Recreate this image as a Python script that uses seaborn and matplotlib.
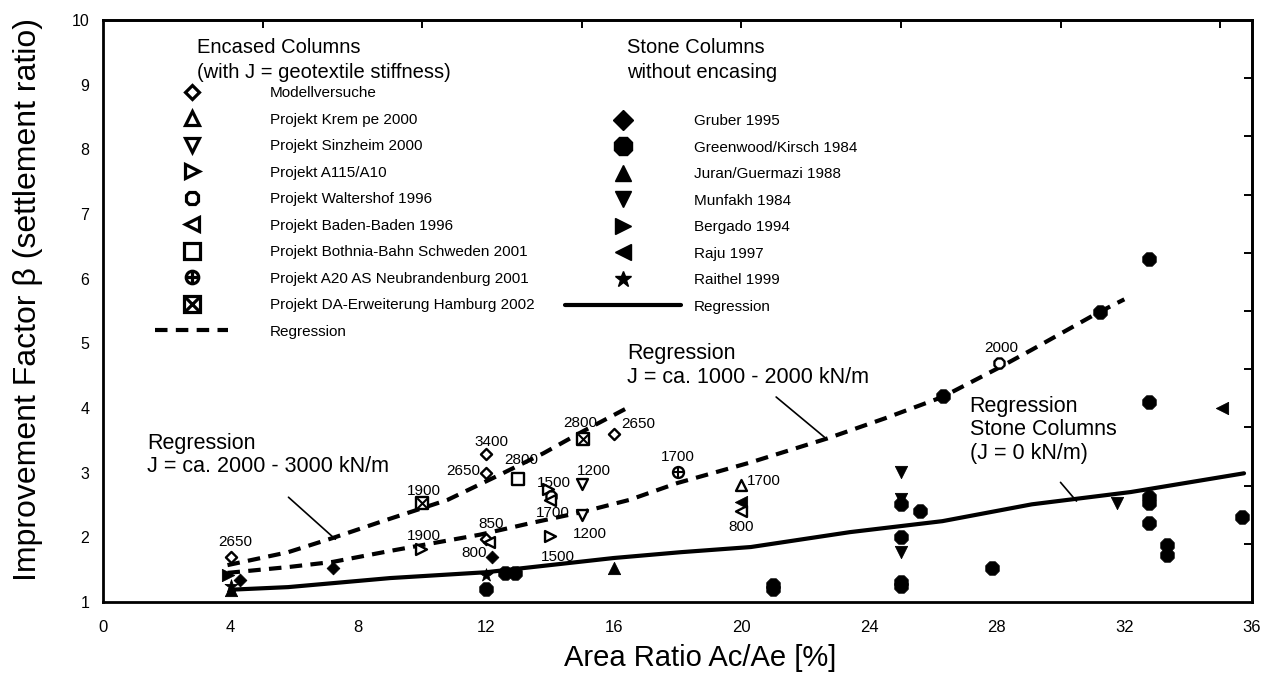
import pandas as pd
import seaborn as sns
import matplotlib.pyplot as plt
from matplotlib.lines import Line2D
from matplotlib.ticker import MultipleLocator

# ---------------- data ----------------
# encased columns (open symbols)
modell_x = [4.0, 12.0, 12.0, 12.0, 16.0]
modell_y = [1.70, 3.29, 3.00, 1.98, 3.60]
krempe_x = [20.0]
krempe_y = [2.81]
sinzheim_x = [15.0, 15.0]
sinzheim_y = [2.82, 2.34]
a115_x = [9.95, 13.95, 14.0]
a115_y = [1.82, 2.74, 2.02]
waltershof_x = [14.05, 28.06]
waltershof_y = [2.64, 4.69]
baden_x = [12.1, 14.0, 20.0]
baden_y = [1.93, 2.57, 2.41]
bothnia_x = [13.0]
bothnia_y = [2.90]
a20_x = [18.0]
a20_y = [3.01]
da_x = [10.0, 15.03]
da_y = [2.53, 3.52]

# stone columns without encasing (filled symbols)
gruber_x = [4.3, 7.22, 12.2]
gruber_y = [1.34, 1.53, 1.70]
greenwood_x = [12.0, 12.6, 12.9, 21.0, 21.0, 25.0, 25.6, 25.0, 25.0, 25.0,
               26.33, 27.84, 31.24, 32.77, 32.77, 32.77, 32.77, 32.77, 33.33, 33.33, 35.69]
greenwood_y = [1.20, 1.45, 1.45, 1.20, 1.27, 2.52, 2.41, 2.00, 1.31, 1.25,
               4.18, 1.53, 5.48, 6.30, 4.09, 2.62, 2.53, 2.22, 1.88, 1.72, 2.31]
juran_x = [4.0, 16.0]
juran_y = [1.19, 1.52]
munfakh_x = [25.0, 25.0, 25.0, 31.76]
munfakh_y = [3.01, 2.60, 1.77, 2.53]
bergado_x = [3.93]
bergado_y = [1.42]
raju_x = [20.0, 35.06]
raju_y = [2.55, 4.00]
raithel_x = [4.0, 12.0]
raithel_y = [1.25, 1.42]

# regression curves
reg_hi_x = [3.9, 5.8, 7.2, 8.7, 10.8, 12.4, 13.8, 15.0, 16.5]
reg_hi_y = [1.57, 1.77, 1.99, 2.24, 2.58, 2.96, 3.30, 3.63, 4.02]
reg_mid_x = [3.9, 5.8, 7.2, 9.0, 11.8, 13.4, 15.0, 16.5, 18.0, 20.3, 22.7, 24.5,
             26.3, 28.1, 29.1, 31.2, 32.0]
reg_mid_y = [1.45, 1.54, 1.62, 1.79, 2.04, 2.22, 2.39, 2.58, 2.84, 3.16, 3.53, 3.84,
             4.17, 4.63, 4.90, 5.48, 5.68]
reg_stone_x = [4.0, 5.8, 9.0, 12.0, 16.0, 18.1, 20.3, 23.4, 26.3, 29.1, 32.2, 35.75]
reg_stone_y = [1.19, 1.23, 1.37, 1.46, 1.68, 1.77, 1.85, 2.08, 2.25, 2.51, 2.70, 2.99]

# geotextile stiffness labels next to the points
j_text = ['2650', '1900', '1900', '3400', '2650', '2800', '1500', '1200', '2800', '2650',
          '1700', '1200', '850', '800', '1500', '1700', '1700', '800', '2000']
j_text_x = [4.14, 10.04, 10.04, 12.18, 11.3, 13.09, 14.12, 15.38, 14.94, 16.76,
            14.09, 15.25, 12.15, 11.64, 14.25, 18.0, 20.7, 20.0, 28.13]
j_text_y = [1.93, 2.72, 2.02, 3.47, 3.02, 3.19, 2.84, 3.02, 3.77, 3.75,
            2.38, 2.05, 2.21, 1.76, 1.70, 3.24, 2.87, 2.16, 4.93]

# ---------------- styling ----------------
sns.set_style('white')
plt.rcParams['font.family'] = ['Liberation Sans', 'DejaVu Sans']
plt.rcParams['text.color'] = 'black'
plt.rcParams['axes.labelcolor'] = 'black'
plt.rcParams['xtick.color'] = 'black'
plt.rcParams['ytick.color'] = 'black'
narrow = ['Liberation Sans Narrow', 'Liberation Sans', 'DejaVu Sans']

fig = plt.figure(figsize=(12.69, 6.77), dpi=100)
ax = fig.add_axes([0.0812, 0.1108, 0.9054, 0.8597])

# name, x, y, marker, size, filled, legend size
encased = [
    ('Modellversuche', modell_x, modell_y, 'D', 32, False, 7),
    ('Projekt Krem pe 2000', krempe_x, krempe_y, '^', 62, False, 10),
    ('Projekt Sinzheim 2000', sinzheim_x, sinzheim_y, 'v', 62, False, 10),
    ('Projekt A115/A10', a115_x, a115_y, '>', 62, False, 10),
    ('Projekt Waltershof 1996', waltershof_x, waltershof_y, '8', 62, False, 10),
    ('Projekt Baden-Baden 1996', baden_x, baden_y, '<', 62, False, 10),
    ('Projekt Bothnia-Bahn Schweden 2001', bothnia_x, bothnia_y, 's', 64, False, 11),
    ('Projekt A20 AS Neubrandenburg 2001', a20_x, a20_y, 'o', 62, False, 9),
    ('Projekt DA-Erweiterung Hamburg 2002', da_x, da_y, 's', 64, False, 11),
]
stone = [
    ('Gruber 1995', gruber_x, gruber_y, 'D', 42, True, 10),
    ('Greenwood/Kirsch 1984', greenwood_x, greenwood_y, '8', 110, True, 14),
    ('Juran/Guermazi 1988', juran_x, juran_y, '^', 78, True, 12),
    ('Munfakh 1984', munfakh_x, munfakh_y, 'v', 78, True, 12),
    ('Bergado 1994', bergado_x, bergado_y, '>', 78, True, 12),
    ('Raju 1997', raju_x, raju_y, '<', 78, True, 12),
    ('Raithel 1999', raithel_x, raithel_y, '*', 95, True, 12),
]
overlay = {'Projekt A20 AS Neubrandenburg 2001': '+',
           'Projekt DA-Erweiterung Hamburg 2002': 'x'}

# regressions
reg_lw = 3.0
reg_dash = [3.0, 2.0]
sns.lineplot(x=reg_hi_x, y=reg_hi_y, color='black', linewidth=reg_lw, sort=False,
             estimator=None, legend=False, ax=ax)
ax.lines[-1].set_dashes(reg_dash)
sns.lineplot(x=reg_mid_x, y=reg_mid_y, color='black', linewidth=reg_lw, sort=False,
             estimator=None, legend=False, ax=ax)
ax.lines[-1].set_dashes(reg_dash)
sns.lineplot(x=reg_stone_x, y=reg_stone_y, color='black', linewidth=reg_lw, sort=False,
             estimator=None, legend=False, ax=ax)

enc_handles, enc_labels = [], []
for name, xs, ys, mk, size, filled, lsize in encased:
    df = pd.DataFrame({'x': xs, 'y': ys})
    sns.scatterplot(data=df, x='x', y='y', marker=mk, s=size, facecolor='white',
                    edgecolor='black', linewidth=1.7, legend=False, ax=ax, zorder=4)
    h = Line2D([], [], ls='none', marker=mk, ms=lsize, mfc='white', mec='black', mew=2.3)
    if name in overlay:
        sns.scatterplot(data=df, x='x', y='y', marker=overlay[name], s=size * 0.9,
                        color='black', linewidth=1.5, legend=False, ax=ax, zorder=5)
        h = (h, Line2D([], [], ls='none', marker=overlay[name], ms=lsize * 0.95,
                       color='black', mew=2.3))
    enc_handles.append(h)
    enc_labels.append(name)
enc_handles.append(Line2D([], [], color='black', lw=reg_lw, dashes=reg_dash))
enc_labels.append('Regression')

st_handles, st_labels = [], []
for name, xs, ys, mk, size, filled, lsize in stone:
    df = pd.DataFrame({'x': xs, 'y': ys})
    sns.scatterplot(data=df, x='x', y='y', marker=mk, s=size, color='black',
                    edgecolor='black', linewidth=0.6, legend=False, ax=ax, zorder=4)
    st_handles.append(Line2D([], [], ls='none', marker=mk, ms=lsize, mfc='black', mec='black'))
    st_labels.append(name)
st_handles.append(Line2D([], [], color='black', lw=reg_lw))
st_labels.append('Regression')

for t, tx, ty in zip(j_text, j_text_x, j_text_y):
    ax.text(tx, ty, t, fontsize=11, ha='center', va='center', zorder=6)

# regression captions with leader lines
ax.text(1.38, 3.27, 'Regression\nJ = ca. 2000 - 3000 kN/m', fontsize=15.5,
        ha='left', va='center', linespacing=1.15)
ax.plot([5.81, 7.28], [2.62, 1.97], color='black', lw=1.2)
ax.text(16.42, 4.66, 'Regression\nJ = ca. 1000 - 2000 kN/m', fontsize=15.5,
        ha='left', va='center', linespacing=1.15)
ax.plot([21.09, 22.6], [4.17, 3.55], color='black', lw=1.2)
ax.text(27.15, 3.66, 'Regression\nStone Columns\n(J = 0 kN/m)', fontsize=15.5,
        ha='left', va='center', linespacing=1.15)
ax.plot([30.0, 30.5], [2.85, 2.56], color='black', lw=1.2)

# legends
leg1 = ax.legend(enc_handles, enc_labels, loc='upper left',
                 bbox_to_anchor=(155 / 1269, 1 - 86 / 677), bbox_transform=fig.transFigure,
                 frameon=False, fontsize=11, handlelength=4.8, handletextpad=2.7,
                 labelspacing=0.82, borderpad=0, borderaxespad=0)
ax.add_artist(leg1)
ax.legend(st_handles, st_labels, loc='upper left',
          bbox_to_anchor=(565 / 1269, 1 - 114 / 677), bbox_transform=fig.transFigure,
          frameon=False, fontsize=11, handlelength=7.6, handletextpad=0.85,
          labelspacing=0.82, borderpad=0, borderaxespad=0)

fig.text(197 / 1269, 1 - 60 / 677, 'Encased Columns\n(with J = geotextile stiffness)',
         fontsize=14.5, ha='left', va='center', linespacing=1.4)
fig.text(627 / 1269, 1 - 60 / 677, 'Stone Columns\nwithout encasing',
         fontsize=14.5, ha='left', va='center', linespacing=1.4)

# axes
ax.set_xlim(0, 36)
ax.set_ylim(1, 10)
ax.xaxis.set_major_locator(MultipleLocator(4))
ax.xaxis.set_minor_locator(MultipleLocator(2))
ax.yaxis.set_major_locator(MultipleLocator(1))
ax.yaxis.set_minor_locator(MultipleLocator(0.5))
ax.tick_params(which='both', direction='in', length=6, width=1.4, color='black',
               top=False, right=False)
ax.tick_params(axis='x', labelsize=12, pad=13)
ax.tick_params(axis='y', labelsize=11.5, pad=10)
for lab in ax.get_xticklabels():
    lab.set_family(narrow)
for sp in ax.spines.values():
    sp.set_linewidth(2)
    sp.set_color('black')

top = ax.secondary_xaxis('top')
top.set_xticks([5, 10, 15, 20, 25, 30, 35])
top.tick_params(direction='in', length=6, width=1.4, labeltop=False)
top.spines['top'].set_linewidth(2)
right = ax.secondary_yaxis('right')
right.set_yticks([1.9, 2.8, 3.7, 4.6, 5.5, 6.4, 7.3, 8.2, 9.1])
right.tick_params(direction='in', length=6, width=1.4, labelright=False)
right.spines['right'].set_linewidth(2)

ax.set_xlabel('Area Ratio Ac/Ae [%]', fontsize=21, family=narrow)
ax.xaxis.set_label_coords(0.52, -0.072)
ax.set_ylabel('Improvement Factor \u03b2 (settlement ratio)', fontsize=23)
ax.yaxis.set_label_coords(-0.052, 0.519)

fig.savefig('out.png', dpi=100)
